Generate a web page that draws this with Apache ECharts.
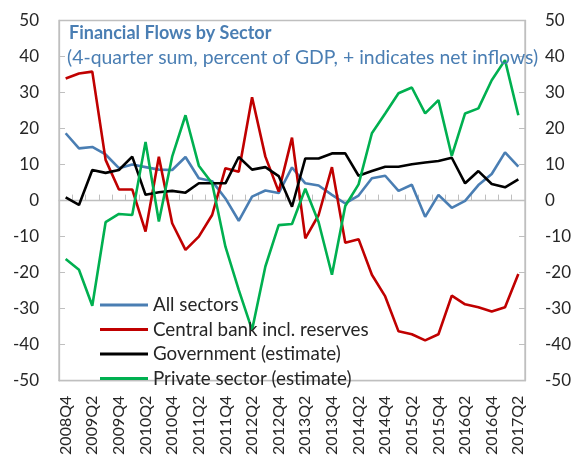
<!DOCTYPE html>
<html>
<head>
<meta charset="utf-8">
<script src="https://cdn.jsdelivr.net/npm/echarts@6/dist/echarts.min.js"></script>
<style>
  html, body { margin: 0; padding: 0; background: #fff; }
  #chart { width: 576px; height: 460px; }
</style>
</head>
<body>
<div id="chart"></div>
<script>
  var quarters = [
    "2008Q4", "2009Q1", "2009Q2", "2009Q3", "2009Q4", "2010Q1", "2010Q2", "2010Q3",
    "2010Q4", "2011Q1", "2011Q2", "2011Q3", "2011Q4", "2012Q1", "2012Q2", "2012Q3",
    "2012Q4", "2013Q1", "2013Q2", "2013Q3", "2013Q4", "2014Q1", "2014Q2", "2014Q3",
    "2014Q4", "2015Q1", "2015Q2", "2015Q3", "2015Q4", "2016Q1", "2016Q2", "2016Q3",
    "2016Q4", "2017Q1", "2017Q2"
  ];

  var allSectors = [18.7, 14.5, 14.9, 12.8, 9.0, 10.0, 9.3, 8.6, 8.5, 12.1, 6.2, 5.4,
    0.6, -5.6, 1.1, 2.8, 2.1, 9.2, 4.8, 4.2, 1.6, -0.8, 1.4, 6.2, 6.9, 2.7, 4.4,
    -4.5, 1.6, -2.0, -0.1, 4.3, 7.4, 13.4, 9.4];

  var centralBank = [33.9, 35.3, 35.8, 11.3, 3.1, 3.1, -8.6, 12.2, -6.3, -13.7, -10.0,
    -4.0, 9.0, 8.0, 28.7, 12.2, 2.5, 17.5, -10.5, -4.0, 9.3, -11.7, -10.7, -20.6,
    -26.6, -36.3, -37.1, -38.8, -37.1, -26.4, -28.8, -29.6, -30.8, -29.6, -20.4];

  var government = [0.9, -1.2, 8.5, 7.7, 8.5, 12.2, 1.6, 2.3, 2.7, 2.2, 4.8, 4.8, 4.8,
    12.1, 8.6, 9.3, 6.8, -1.7, 11.7, 11.7, 13.1, 13.1, 6.9, 8.2, 9.4, 9.4, 10.1,
    10.6, 11.0, 11.9, 4.8, 8.2, 4.6, 3.7, 5.9];

  var privateSector = [-16.2, -19.2, -29.2, -6.0, -3.7, -4.0, 16.3, -5.8, 12.2, 23.7,
    9.7, 4.8, -12.8, -24.8, -35.9, -18.3, -6.8, -6.5, 3.3, -6.0, -20.6, -1.5, 4.5,
    18.7, 24.2, 29.8, 31.4, 24.2, 27.9, 12.4, 24.2, 25.6, 33.4, 39.0, 23.7];

  var seriesNames = [
    "All sectors",
    "Central bank incl. reserves",
    "Government (estimate)",
    "Private sector (estimate)"
  ];
  var seriesColors = ["#4a7eb3", "#c00000", "#000000", "#00b050"];

  var FONT = "Lato";
  var AXIS_GREY = "#bfbfbf";
  var TITLE_BLUE = "#4a7eb3";
  var TEXT = "#262626";

  function lineSeries(name, data, color) {
    return {
      name: name,
      type: "line",
      data: data,
      symbol: "none",
      lineStyle: { color: color, width: 2.6 },
      itemStyle: { color: color },
      animation: false
    };
  }

  function valueAxis(position) {
    return {
      type: "value",
      position: position,
      min: -50,
      max: 50,
      interval: 10,
      axisLine: { show: true, lineStyle: { color: AXIS_GREY, width: 1.3 } },
      axisTick: { show: true, inside: true, length: 6, lineStyle: { color: AXIS_GREY } },
      splitLine: { show: false },
      axisLabel: { color: TEXT, fontFamily: FONT, fontSize: 17, margin: 20 }
    };
  }

  var chart = echarts.init(document.getElementById("chart"), null, { renderer: "canvas" });

  chart.setOption({
    backgroundColor: "#fff",
    title: [
      {
        text: "Financial Flows by Sector",
        left: 64,
        top: 19,
        textStyle: { color: TITLE_BLUE, fontFamily: FONT, fontWeight: "bold", fontSize: 18 }
      },
      {
        text: "(4-quarter sum, percent of GDP, + indicates net inflows)",
        left: 62,
        top: 43,
        textStyle: { color: TITLE_BLUE, fontFamily: FONT, fontWeight: "normal", fontSize: 19.4 }
      }
    ],
    legend: {
      orient: "vertical",
      left: 100,
      top: 295,
      padding: 0,
      itemWidth: 48,
      itemHeight: 3,
      itemGap: 4.5,
      icon: "rect",
      data: seriesNames,
      textStyle: { color: TEXT, fontFamily: FONT, fontSize: 18.8, lineHeight: 20 }
    },
    grid: {
      left: 59,
      right: 51,
      top: 20.5,
      bottom: 79.3,
      show: true,
      borderColor: AXIS_GREY,
      borderWidth: 1.3,
      containLabel: false
    },
    xAxis: [
      {
        type: "category",
        data: quarters,
        position: "bottom",
        boundaryGap: true,
        axisLine: { show: true, onZero: false, lineStyle: { color: AXIS_GREY, width: 1.3 } },
        axisTick: { show: false },
        axisLabel: {
          interval: 1,
          rotate: 90,
          margin: 15,
          color: TEXT,
          fontFamily: FONT,
          fontSize: 16
        }
      },
      {
        type: "category",
        data: quarters,
        position: "bottom",
        boundaryGap: true,
        axisLine: { show: true, onZero: true, lineStyle: { color: AXIS_GREY, width: 1.3 } },
        axisTick: { show: true, inside: true, interval: 0, length: 6, lineStyle: { color: AXIS_GREY } },
        axisLabel: { show: false }
      }
    ],
    yAxis: [valueAxis("left"), valueAxis("right")],
    series: [
      lineSeries(seriesNames[0], allSectors, seriesColors[0]),
      lineSeries(seriesNames[1], centralBank, seriesColors[1]),
      lineSeries(seriesNames[2], government, seriesColors[2]),
      lineSeries(seriesNames[3], privateSector, seriesColors[3])
    ]
  });
</script>
</body>
</html>
